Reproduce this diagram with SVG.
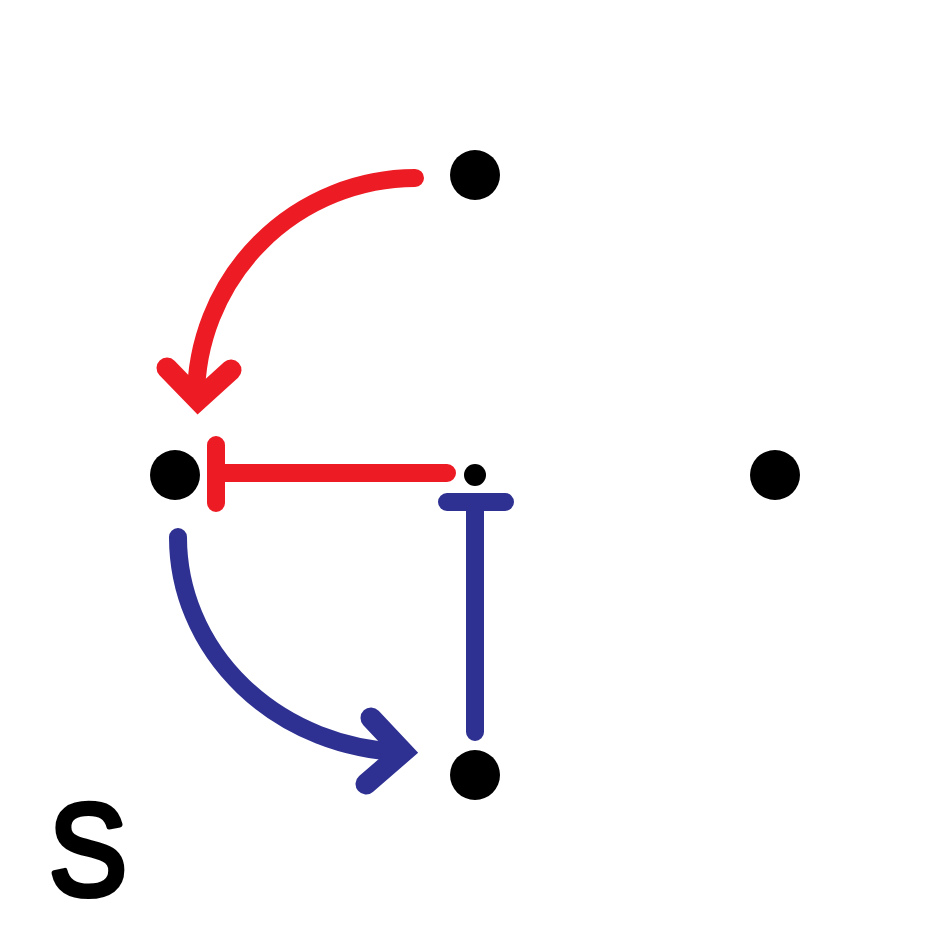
<svg xmlns="http://www.w3.org/2000/svg" width="950" height="950" viewBox="0 0 950 950">
<style>
.n{fill:#000}
.r{stroke:#ed1c24;fill:none;stroke-width:18;stroke-linecap:round;stroke-linejoin:round}
.b{stroke:#2e3192;fill:none;stroke-width:18;stroke-linecap:round;stroke-linejoin:round}
.h{stroke-width:21;stroke-linejoin:miter;stroke-miterlimit:4}
</style>
<rect width="950" height="950" fill="#fff"/>
<g id="connectors">
<path class="r" d="M415,178 A220,220 0 0 0 196,398"/>
<path class="r h" d="M167,368 L198,400 L231,370"/>
<path class="r" d="M447,473 L216,473 M216,445 L216,503"/>
<path class="b" d="M447,502 L505,502 M475,502 L475,732"/>
<path class="b" d="M178,537 A232,215 0 0 0 402,752"/>
<path class="b h" d="M371,718 L403,752 L366,784"/>
</g>
<g id="n1"><circle class="n" cx="475" cy="175" r="25"/></g>
<g id="n2"><circle class="n" cx="175" cy="475" r="25"/></g>
<g id="n3"><circle class="n" cx="475" cy="475" r="11"/></g>
<g id="n4"><circle class="n" cx="775" cy="475" r="25"/></g>
<g id="n5"><circle class="n" cx="475" cy="775" r="25"/></g>
<text x="49" y="895" font-family="'Liberation Sans', sans-serif" font-size="130" fill="#000" stroke="#000" stroke-width="6" stroke-linejoin="round" transform="translate(49,0) scale(0.9,1) translate(-49,0)">S</text>
</svg>
